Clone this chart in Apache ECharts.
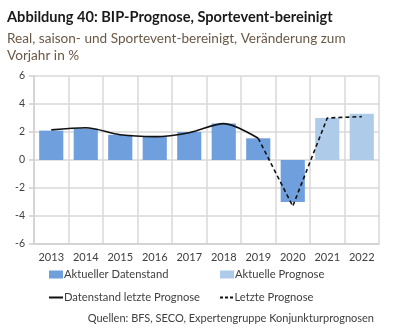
<!DOCTYPE html>
<html><head><meta charset="utf-8">
<script src="https://cdn.jsdelivr.net/npm/echarts@6/dist/echarts.min.js"></script>
<style>html,body{margin:0;padding:0;background:#fff}#c{width:398px;height:330px}</style>
</head><body><div id="c"></div>
<script>
var categories = ['2013','2014','2015','2016','2017','2018','2019','2020','2021','2022'];
var actualData = [2.1, 2.25, 1.8, 1.7, 2.0, 2.6, 1.55, -3.0, null, null];
var forecastData = [null, null, null, null, null, null, null, null, 3.0, 3.3];
var lastDataLine = [2.15, 2.3, 1.8, 1.67, 1.95, 2.6, 1.55, null, null, null];
var lastForecastLine = [null, null, null, null, null, null, 1.55, -3.3, 3.0, 3.1];
var yTicks = [-6, -4, -2, 0, 2, 4, 6];

var F = 'Lato, "Open Sans", sans-serif';
var legTxt = {fontFamily: F, fontSize: 11.2, color: '#404040', padding: [0,0,0,-4]};
function leg(name, left, top, icon, h) {
  return {left: left, top: top, itemWidth: 14, itemHeight: h, selectedMode: false,
    data: [{name: name, icon: icon}], textStyle: legTxt};
}
var chart = echarts.init(document.getElementById('c'));
chart.setOption({
  animation: false,
  textStyle: {fontFamily: F},
  title: [
    {text: 'Abbildung 40: BIP-Prognose, Sportevent-bereinigt', left: 2, top: 5,
     textStyle: {fontFamily: F, fontSize: 14.6, fontWeight: 'bold', color: '#1a1a1a'}},
    {text: 'Real, saison- und Sportevent-bereinigt, Veränderung zum\nVorjahr in %', left: 2, top: 25,
     textStyle: {fontFamily: F, fontSize: 13.6, fontWeight: 'normal', color: '#6b5846', lineHeight: 17}},
    {text: 'Quellen: BFS, SECO, Expertengruppe Konjunkturprognosen', right: 19, top: 308,
     textStyle: {fontFamily: F, fontSize: 11, fontWeight: 'normal', color: '#404040'}}
  ],
  legend: [
    leg('Aktueller Datenstand', 44, 264, 'rect', 8),
    leg('Aktuelle Prognose', 215, 264, 'rect', 8),
    leg('Datenstand letzte Prognose', 44, 287, 'path://M0,0h14v2h-14z', 2),
    leg('Letzte Prognose', 215, 287, 'path://M0,0h3v2h-3z M5,0h3v2h-3z M10,0h3v2h-3z', 2)
  ],
  grid: {left: 34, right: 19, top: 76, bottom: 86, containLabel: false},
  xAxis: {
    type: 'category', data: categories, boundaryGap: true,
    axisLine: {onZero: false, lineStyle: {color: '#d0d0d0', width: 1.5}},
    axisTick: {show: false},
    axisLabel: {color: '#404040', fontSize: 11, margin: 8, fontFamily: F},
    splitLine: {show: true, interval: 0, lineStyle: {color: '#d9d9d9', width: 1.5}}
  },
  yAxis: {
    type: 'value', min: -6, max: 6, interval: 2,
    axisLine: {show: true, lineStyle: {color: '#d0d0d0', width: 1.5}},
    axisTick: {show: true, length: 5, lineStyle: {color: '#d0d0d0', width: 1.5}},
    axisLabel: {color: '#404040', fontSize: 10.5, margin: 9, fontFamily: F},
    splitLine: {lineStyle: {color: '#d9d9d9', width: 1.5}}
  },
  series: [
    {name: 'Aktueller Datenstand', type: 'bar', stack: 'b', data: actualData, barWidth: '70%',
     itemStyle: {color: '#6f9fdc'}},
    {name: 'Aktuelle Prognose', type: 'bar', stack: 'b', data: forecastData, barWidth: '70%',
     itemStyle: {color: '#aecbea'}},
    {name: 'Datenstand letzte Prognose', type: 'line', data: lastDataLine, smooth: 0.3,
     symbol: 'none', lineStyle: {color: '#111', width: 1.6}, itemStyle: {color: '#111'}},
    {name: 'Letzte Prognose', type: 'line', data: lastForecastLine,
     symbol: 'none', lineStyle: {color: '#111', width: 1.6, type: [4, 3]}, itemStyle: {color: '#111'}}
  ]
});
</script></body></html>
